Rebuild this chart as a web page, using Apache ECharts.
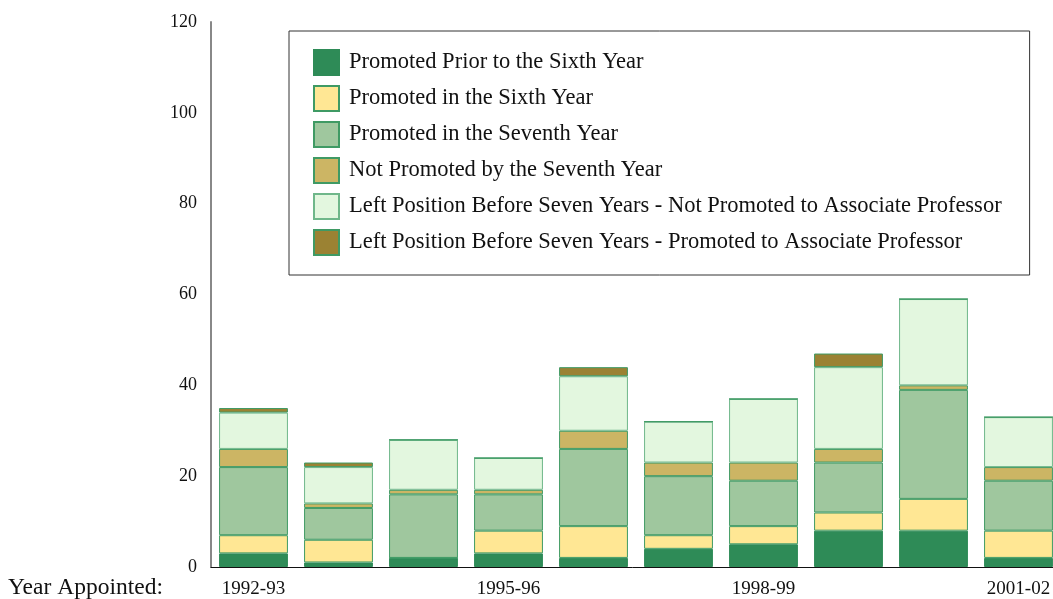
<!DOCTYPE html>
<html>
<head>
<meta charset="utf-8">
<script src="https://cdn.jsdelivr.net/npm/echarts@6/dist/echarts.min.js"></script>
<style>
  html, body { margin: 0; padding: 0; background: #fff; overflow: hidden; }
  #chart { width: 1053px; height: 599px; }
</style>
</head>
<body>
<div id="chart"></div>
<script>
// Cohorts of faculty appointed each year, by tenure outcome
const years = ['1992-93', '1993-94', '1994-95', '1995-96', '1996-97',
               '1997-98', '1998-99', '1999-00', '2000-01', '2001-02'];

const promotedPriorSixth  = [3, 1, 2, 3, 2, 4, 5, 8, 8, 2];
const promotedSixth       = [4, 5, 0, 5, 7, 3, 4, 4, 7, 6];
const promotedSeventh     = [15, 7, 14, 8, 17, 13, 10, 11, 24, 11];
const notPromotedSeventh  = [4, 1, 1, 1, 4, 3, 4, 3, 1, 3];
const leftNotPromoted     = [8, 8, 11, 7, 12, 9, 14, 18, 19, 11];
const leftPromoted        = [1, 1, 0, 0, 2, 0, 0, 3, 0, 0];

const yTicks = { min: 0, max: 120, interval: 20 };

const seriesDefs = [
  { name: 'Promoted Prior to the Sixth Year', data: promotedPriorSixth, color: '#2e8b57', border: '#2e8b57' },
  { name: 'Promoted in the Sixth Year', data: promotedSixth, color: '#ffe794', border: '#3f9a64' },
  { name: 'Promoted in the Seventh Year', data: promotedSeventh, color: '#9fc79e', border: '#3f9a64' },
  { name: 'Not Promoted by the Seventh Year', data: notPromotedSeventh, color: '#ccb564', border: '#3f9a64' },
  { name: 'Left Position Before Seven Years - Not Promoted to Associate Professor', data: leftNotPromoted, color: '#e3f7df', border: '#6fb78a' },
  { name: 'Left Position Before Seven Years - Promoted to Associate Professor', data: leftPromoted, color: '#9b8233', border: '#3f9a64' }
];

const serif = '"Liberation Serif", "DejaVu Serif", serif';

const chart = echarts.init(document.getElementById('chart'), null, { renderer: 'canvas' });

chart.setOption({
  animation: false,
  backgroundColor: '#fff',
  textStyle: { fontFamily: serif, color: '#111' },
  grid: { left: 211, top: 22, width: 850, bottom: 32, containLabel: false, outerBoundsMode: 'none' },
  legend: {
    orient: 'vertical',
    left: 289,
    top: 31,
    padding: [18, 28, 19, 24],
    borderColor: '#333',
    borderWidth: 1,
    itemWidth: 25,
    itemHeight: 25,
    itemGap: 9,
    icon: 'rect',
    selectedMode: false,
    textStyle: { fontFamily: serif, fontSize: 22.5, lineHeight: 25, color: '#111', padding: [0, 0, 0, 5] },
    data: seriesDefs.map(s => s.name)
  },
  xAxis: {
    type: 'category',
    data: years,
    axisLine: { show: true, lineStyle: { color: '#111', width: 1 } },
    axisTick: { show: false },
    axisLabel: { interval: 2, margin: 13, fontSize: 19, fontFamily: serif, color: '#111' },
    splitLine: { show: false }
  },
  yAxis: {
    type: 'value',
    min: yTicks.min,
    max: yTicks.max,
    interval: yTicks.interval,
    axisLine: { show: true, lineStyle: { color: '#888', width: 2 } },
    axisTick: { show: false },
    splitLine: { show: false },
    axisLabel: { margin: 14, fontSize: 18, fontFamily: serif, color: '#111' }
  },
  graphic: [{
    type: 'text',
    left: 8,
    top: 576,
    style: { text: 'Year Appointed:', font: '23.5px ' + serif, fill: '#111' }
  }],
  series: seriesDefs.map(s => ({
    name: s.name,
    type: 'bar',
    stack: 'total',
    barCategoryGap: '19%',
    data: s.data,
    itemStyle: { color: s.color, borderColor: s.border, borderWidth: 1 },
    emphasis: { disabled: true }
  }))
});
</script>
</body>
</html>
